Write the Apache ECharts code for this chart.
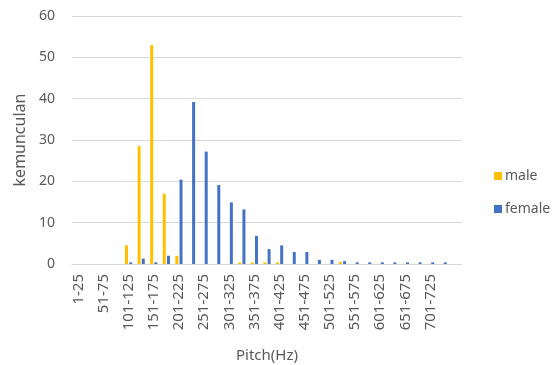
<!DOCTYPE html>
<html>
<head>
<meta charset="utf-8">
<script src="https://cdn.jsdelivr.net/npm/echarts@6/dist/echarts.min.js"></script>
<style>
  html, body { margin: 0; padding: 0; background: #fff; }
  #chart { width: 555px; height: 365px; }
</style>
</head>
<body>
<div id="chart"></div>
<script>
// pitch bins, 25 Hz wide
var bins = [
  '1-25', '26-50', '51-75', '76-100', '101-125', '126-150', '151-175', '176-200',
  '201-225', '226-250', '251-275', '276-300', '301-325', '326-350', '351-375', '376-400',
  '401-425', '426-450', '451-475', '476-500', '501-525', '526-550', '551-575', '576-600',
  '601-625', '626-650', '651-675', '676-700', '701-725', '726-750', '751-775'
];
var male = [
  0, 0, 0, 0, 4.5, 28.5, 53, 17,
  2, 0, 0, 0, 0, 0.4, 0.4, 0.4,
  0.4, 0, 0, 0, 0, 0.5, 0, 0,
  0, 0, 0, 0, 0, 0, 0
];
var female = [
  0, 0, 0, 0, 0.4, 1.3, 0.4, 2.0,
  20.4, 39.2, 27.2, 19.1, 14.9, 13.2, 6.8, 3.6,
  4.5, 2.9, 2.9, 1.0, 1.0, 0.7, 0.4, 0.4,
  0.4, 0.4, 0.4, 0.4, 0.4, 0.4, 0
];
var yTicks = [0, 10, 20, 30, 40, 50, 60];

var txt = '#595959';
var font = 'Noto Sans';

var mychart = echarts.init(document.getElementById('chart'));
var option = {
  animation: false,
  textStyle: { fontFamily: font },
  grid: { left: 72, right: 93, top: 16, bottom: 101, containLabel: false, outerBoundsMode: 'none' },
  legend: {
    orient: 'vertical',
    left: 489,
    top: 164,
    itemWidth: 8,
    itemHeight: 8,
    itemGap: 19,
    icon: 'rect',
    textStyle: { color: txt, fontSize: 14, fontFamily: font, padding: [0, 0, 0, -2] },
    data: ['male', 'female']
  },
  xAxis: {
    type: 'category',
    data: bins,
    name: 'Pitch(Hz)',
    nameLocation: 'middle',
    nameGap: 84,
    nameTextStyle: { color: txt, fontSize: 15 },
    axisLine: { lineStyle: { color: '#d9d9d9' } },
    axisTick: { show: false },
    axisLabel: {
      // every other bin is labelled, the last one is left blank
      interval: function (i) { return i % 2 === 0 && i < bins.length - 1; },
      rotate: 90,
      color: txt,
      fontSize: 15,
      margin: 10
    }
  },
  yAxis: {
    type: 'value',
    min: yTicks[0],
    max: yTicks[yTicks.length - 1],
    interval: 10,
    name: 'kemunculan',
    nameLocation: 'middle',
    nameGap: 44,
    nameTextStyle: { color: txt, fontSize: 16 },
    axisLine: { show: false },
    axisTick: { show: false },
    axisLabel: { color: txt, fontSize: 14, margin: 17 },
    splitLine: { lineStyle: { color: '#d9d9d9', width: 1 } }
  },
  series: [
    {
      name: 'male',
      type: 'bar',
      data: male,
      barWidth: 3,
      barGap: '40%',
      itemStyle: { color: '#FFC000' }
    },
    {
      name: 'female',
      type: 'bar',
      data: female,
      barWidth: 3,
      itemStyle: { color: '#4472C4' }
    }
  ]
};
mychart.setOption(option, true);
</script>
</body>
</html>
